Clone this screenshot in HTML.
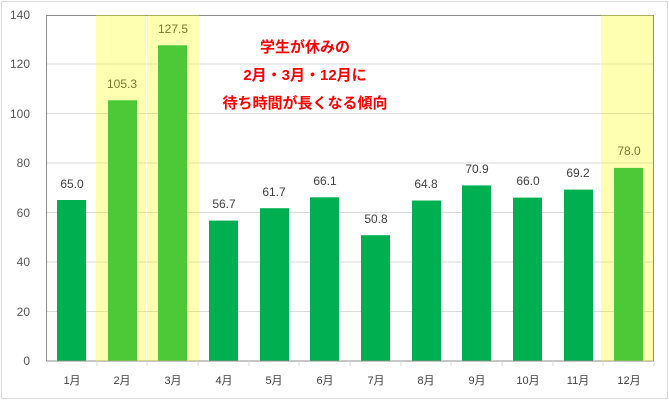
<!DOCTYPE html>
<html><head><meta charset="utf-8"><style>
html,body{margin:0;padding:0;background:#fff;}
svg{display:block;font-family:"Liberation Sans","Noto Sans CJK JP",sans-serif;}
</style></head><body>
<svg width="669" height="401" viewBox="0 0 669 401">
<rect x="1.5" y="1.5" width="666" height="397" fill="#fff" stroke="#d9d9d9"/>
<g stroke="#d9d9d9" stroke-width="1">
<line x1="46" x2="654" y1="311.5" y2="311.5"/>
<line x1="46" x2="654" y1="262" y2="262"/>
<line x1="46" x2="654" y1="212.5" y2="212.5"/>
<line x1="46" x2="654" y1="163" y2="163"/>
<line x1="46" x2="654" y1="113.5" y2="113.5"/>
<line x1="46" x2="654" y1="64" y2="64"/>
</g>
<g fill="#00b050">
<rect x="57" y="200" width="29" height="161"/>
<rect x="108" y="100.3" width="29" height="260.7"/>
<rect x="158" y="45.3" width="29" height="315.7"/>
<rect x="209" y="220.6" width="29" height="140.4"/>
<rect x="260" y="208.2" width="29" height="152.8"/>
<rect x="310" y="197.3" width="29" height="163.7"/>
<rect x="361" y="235.2" width="29" height="125.8"/>
<rect x="412" y="200.5" width="29" height="160.5"/>
<rect x="462" y="185.4" width="29" height="175.6"/>
<rect x="513" y="197.6" width="29" height="163.4"/>
<rect x="564" y="189.6" width="29" height="171.4"/>
<rect x="614" y="167.9" width="29" height="193.1"/>
</g>
<g font-size="12" fill="#404040" text-anchor="middle">
<text x="72" y="188">65.0</text>
<text x="122" y="88">105.3</text>
<text x="173" y="33">127.5</text>
<text x="224" y="208">56.7</text>
<text x="274" y="196">61.7</text>
<text x="325" y="185">66.1</text>
<text x="376" y="223">50.8</text>
<text x="426" y="188">64.8</text>
<text x="477" y="173">70.9</text>
<text x="528" y="185">66.0</text>
<text x="578" y="177">69.2</text>
<text x="629" y="155">78.0</text>
</g>
<g font-size="11" fill="#404040" text-anchor="middle">
<text x="72" y="384">1月</text><text x="122" y="384">2月</text><text x="173" y="384">3月</text>
<text x="224" y="384">4月</text><text x="274" y="384">5月</text><text x="325" y="384">6月</text>
<text x="376" y="384">7月</text><text x="426" y="384">8月</text><text x="477" y="384">9月</text>
<text x="528" y="384">10月</text><text x="578" y="384">11月</text><text x="629" y="384">12月</text>
</g>
<g font-size="12" fill="#595959" text-anchor="end">
<text x="30" y="365">0</text><text x="30" y="316">20</text><text x="30" y="266">40</text>
<text x="30" y="217">60</text><text x="30" y="167">80</text><text x="30" y="118">100</text>
<text x="30" y="68">120</text><text x="30" y="19">140</text>
</g>
<rect x="46.5" y="15.5" width="607" height="345.5" fill="none" stroke="#8c8c8c"/>
<g stroke="#d9d9d9">
<line x1="97" x2="97" y1="361" y2="366"/><line x1="147" x2="147" y1="361" y2="366"/>
<line x1="198" x2="198" y1="361" y2="366"/><line x1="249" x2="249" y1="361" y2="366"/>
<line x1="299" x2="299" y1="361" y2="366"/><line x1="350" x2="350" y1="361" y2="366"/>
<line x1="401" x2="401" y1="361" y2="366"/><line x1="451" x2="451" y1="361" y2="366"/>
<line x1="502" x2="502" y1="361" y2="366"/><line x1="553" x2="553" y1="361" y2="366"/>
<line x1="603" x2="603" y1="361" y2="366"/><line x1="654" x2="654" y1="361" y2="366"/>
</g>
<g fill="rgba(255,255,0,0.3)">
<rect x="96" y="15" width="50" height="346"/>
<rect x="147" y="15" width="52" height="346"/>
<rect x="601" y="15" width="52" height="346"/>
</g>
<g font-size="15" font-weight="bold" fill="#ff0000" text-anchor="middle">
<text x="305" y="52">学生が休みの</text>
<text x="305" y="80">2月・3月・12月に</text>
<text x="305" y="108">待ち時間が長くなる傾向</text>
</g>
</svg>
</body></html>
